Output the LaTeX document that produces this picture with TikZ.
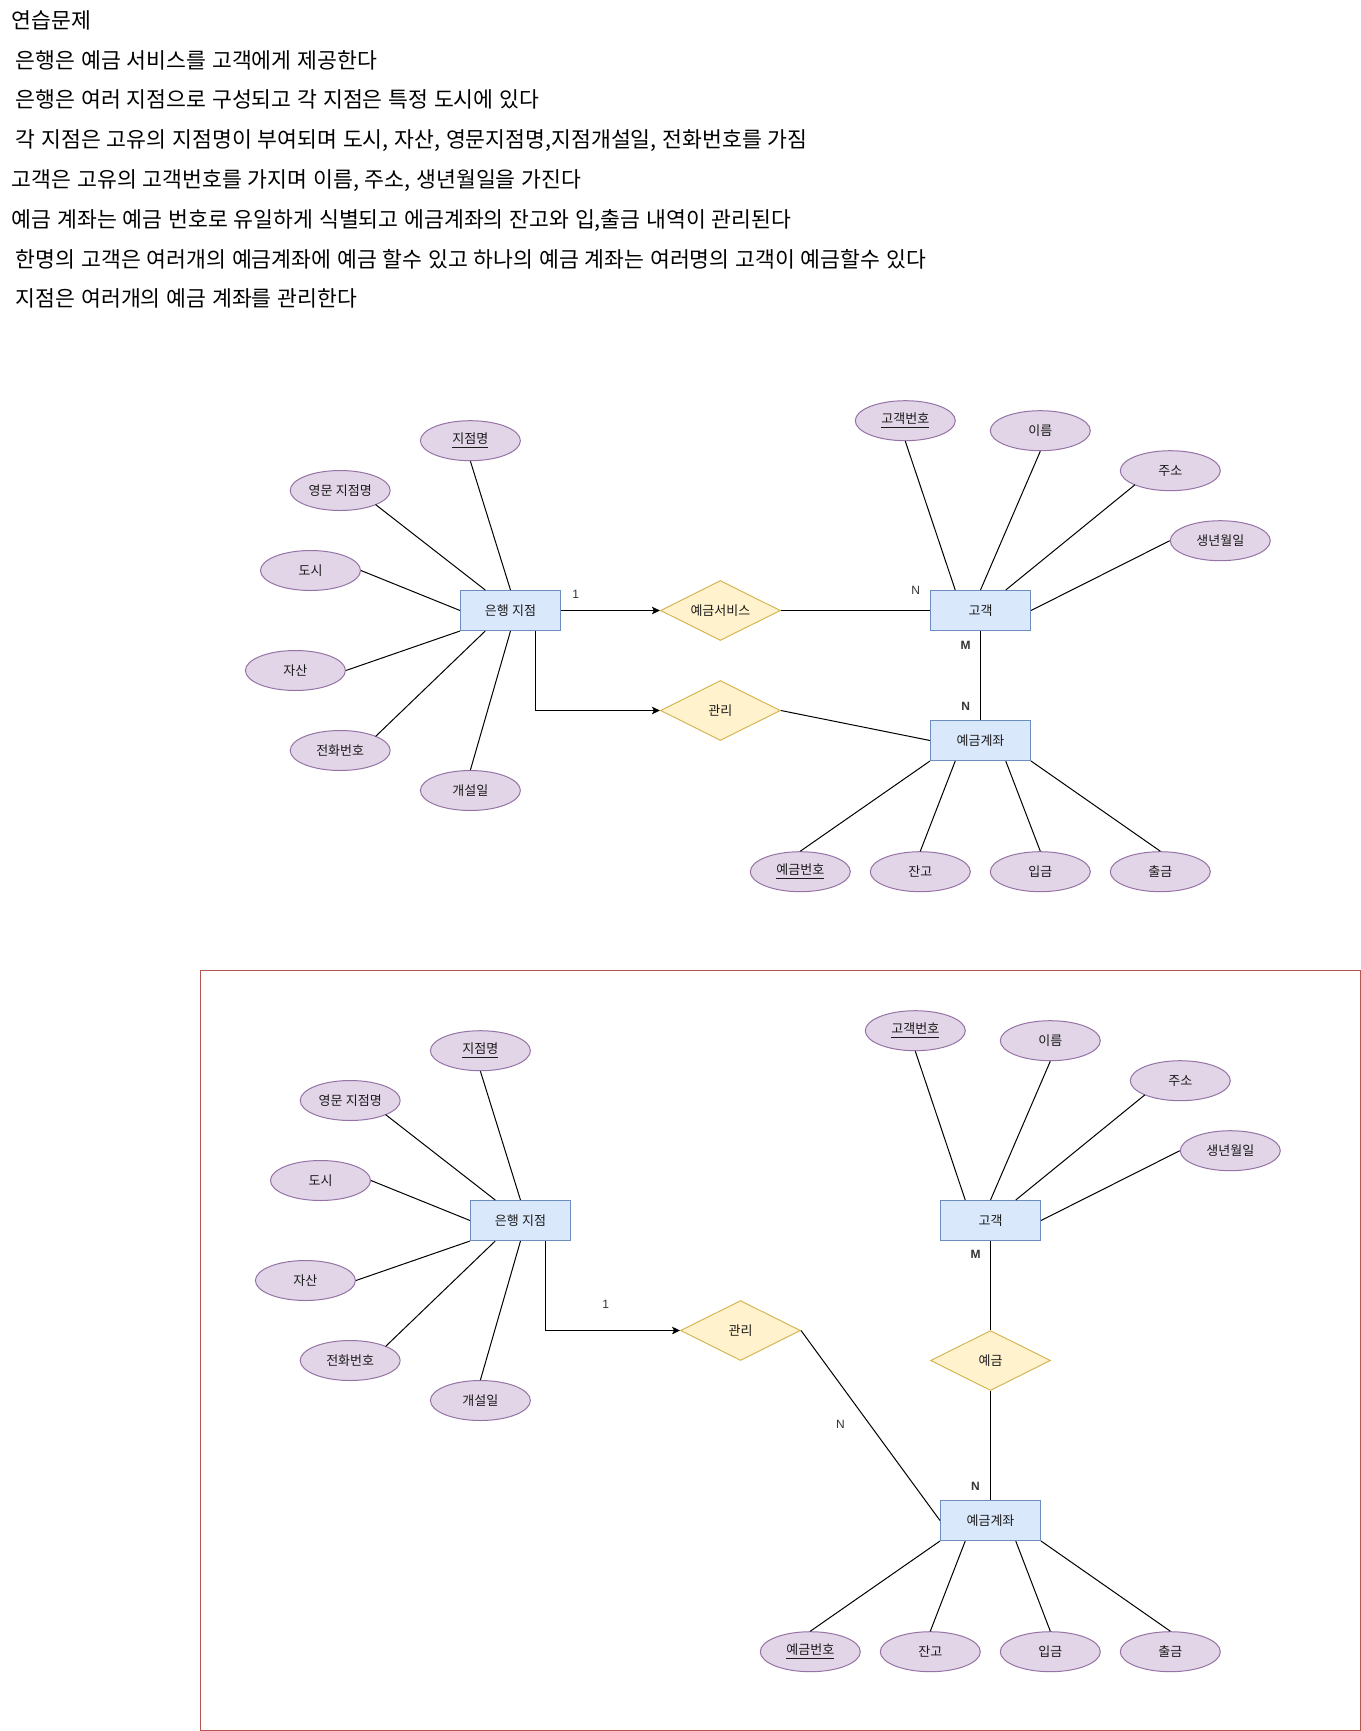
\documentclass[tikz,border=0pt]{standalone}
\usepackage{fontspec}
\setmainfont{Noto Sans CJK KR}[WordSpace=1.2]
\newfontfamily\latf{Liberation Sans}
\usetikzlibrary{shapes.geometric,arrows.meta,calc}
\definecolor{attrfill}{HTML}{E1D5E7}
\definecolor{attrline}{HTML}{9673A6}
\definecolor{entfill}{HTML}{DAE8FC}
\definecolor{entline}{HTML}{6C8EBF}
\definecolor{relfill}{HTML}{FFF2CC}
\definecolor{relline}{HTML}{D6B656}
\definecolor{frameline}{HTML}{B85450}
\definecolor{txt}{HTML}{1A1A1A}
\definecolor{labtxt}{HTML}{333333}
\tikzset{
  nodefont/.style={font=\fontsize{6.5}{7.5}\selectfont, text=txt},
  attr/.style={ellipse, draw=attrline, fill=attrfill, line width=0.5pt, minimum width=50pt, minimum height=20pt, inner sep=0pt, nodefont},
  ent/.style={rectangle, draw=entline, fill=entfill, line width=0.5pt, minimum width=50pt, minimum height=20pt, inner sep=0pt, nodefont},
  rel/.style={diamond, shape aspect=2, draw=relline, fill=relfill, line width=0.5pt, minimum width=60pt, minimum height=30pt, inner sep=0pt, nodefont},
  conn/.style={line width=0.5pt, draw=black},
  arr/.style={conn, -{Stealth[length=4pt, width=3.8pt, inset=1pt]}},
  lbl/.style={font=\latf\fontsize{6}{7}\selectfont, text=labtxt, inner sep=0pt},
  blbl/.style={font=\latf\bfseries\fontsize{6}{7}\selectfont, text=labtxt, inner sep=0pt},
  head/.style={anchor=base west, inner sep=0pt, font=\fontsize{10.8}{13}\selectfont, text=black}
}
\begin{document}
\begin{tikzpicture}[x=0.5pt, y=-0.5pt]
\useasboundingbox (0,0) rectangle (1361,1731);

% ---------- header text ----------
\node[head] (t1) at (11.5,28.3) {연습문제};
\node[head] (t2) at (15.5,68.1) {은행은 예금 서비스를 고객에게 제공한다};
\node[head] (t3) at (15.5,107.9) {은행은 여러 지점으로 구성되고 각 지점은 특정 도시에 있다};
\node[head] (t4) at (15.5,147.7) {각 지점은 고유의 지점명이 부여되며 도시, 자산, 영문지점명,지점개설일, 전화번호를 가짐};
\node[head] (t5) at (11.5,187.5) {고객은 고유의 고객번호를 가지며 이름, 주소, 생년월일을 가진다};
\node[head] (t6) at (11.5,227.3) {예금 계좌는 예금 번호로 유일하게 식별되고 에금계좌의 잔고와 입,출금 내역이 관리된다};
\node[head] (t7) at (15.5,267.1) {한명의 고객은 여러개의 예금계좌에 예금 할수 있고 하나의 예금 계좌는 여러명의 고객이 예금할수 있다};
\node[head] (t8) at (15.5,306.9) {지점은 여러개의 예금 계좌를 관리한다};

% ---------- diagram 1 ----------
\node[ent] (bank) at (510.5,610.5) {은행 지점};
\node[attr] (jm) at (470.4,440.7) {\underline{지점명}};
\node[attr] (eng) at (340.2,490.5) {영문 지점명};
\node[attr] (city) at (310.5,570.5) {도시};
\node[attr] (asset) at (295.4,670.5) {자산};
\node[attr] (tel) at (340.2,750.5) {전화번호};
\node[attr] (open) at (470.4,790.5) {개설일};
\node[rel] (svc) at (720.4,610.5) {예금서비스};
\node[rel] (mgmt) at (720.4,710.5) {관리};
\node[ent] (cust) at (980.5,610.5) {고객};
\node[ent] (acct) at (980.5,740.5) {예금계좌};
\node[attr] (cno) at (905.3,420.7) {\underline{고객번호}};
\node[attr] (name) at (1040.3,430.7) {이름};
\node[attr] (addr) at (1170.3,470.7) {주소};
\node[attr] (birth) at (1220.3,540.7) {생년월일};
\node[attr] (ano) at (800.3,871.7) {\underline{예금번호}};
\node[attr] (bal) at (920.3,871.7) {잔고};
\node[attr] (dep) at (1040.3,871.7) {입금};
\node[attr] (wd) at (1160.3,871.7) {출금};

\draw[conn] (jm.south) -- (bank.north);
\draw[conn] ($(eng.center)+(35.4,14.1)$) -- ($(bank.north west)!0.25!(bank.north east)$);
\draw[conn] (city.east) -- (bank.west);
\draw[conn] (asset.east) -- (bank.south west);
\draw[conn] ($(tel.center)+(35.4,-14.1)$) -- ($(bank.south west)!0.25!(bank.south east)$);
\draw[conn] (open.north) -- (bank.south);
\draw[arr] (bank.east) -- (svc.west);
\draw[arr] ($(bank.south west)!0.75!(bank.south east)$) |- (mgmt.west);
\draw[conn] (svc.east) -- (cust.west);
\draw[conn] (mgmt.east) -- (acct.west);
\draw[conn] (cust.south) -- (acct.north);
\draw[conn] (cno.south) -- ($(cust.north west)!0.25!(cust.north east)$);
\draw[conn] (name.south) -- (cust.north);
\draw[conn] ($(addr.center)+(-35.4,14.1)$) -- ($(cust.north west)!0.75!(cust.north east)$);
\draw[conn] (birth.west) -- (cust.east);
\draw[conn] (ano.north) -- (acct.south west);
\draw[conn] (bal.north) -- ($(acct.south west)!0.25!(acct.south east)$);
\draw[conn] (dep.north) -- ($(acct.south west)!0.75!(acct.south east)$);
\draw[conn] (wd.north) -- (acct.south east);

\node[lbl] (l1a) at (575.7,594.3) {1};
\node[lbl] (l1b) at (915.7,590) {N};
\node[blbl] (l1c) at (965.7,645) {M};
\node[blbl] (l1d) at (965.7,706.7) {N};

% ---------- diagram 2 ----------
\draw[draw=frameline, line width=0.5pt] (200.3,970.3) rectangle (1360.5,1730.5);

\node[ent] (bankB) at (520.5,1220.5) {은행 지점};
\node[attr] (jmB) at (480.4,1050.7) {\underline{지점명}};
\node[attr] (engB) at (350.2,1100.5) {영문 지점명};
\node[attr] (cityB) at (320.5,1180.5) {도시};
\node[attr] (assetB) at (305.4,1280.5) {자산};
\node[attr] (telB) at (350.2,1360.5) {전화번호};
\node[attr] (openB) at (480.4,1400.5) {개설일};
\node[rel] (mgmtB) at (740.5,1330.5) {관리};
\node[ent] (custB) at (990.5,1220.5) {고객};
\node[rel] (depo) at (990.5,1360.5) {예금};
\node[ent] (acctB) at (990.5,1520.5) {예금계좌};
\node[attr] (cnoB) at (915.3,1030.7) {\underline{고객번호}};
\node[attr] (nameB) at (1050.3,1040.7) {이름};
\node[attr] (addrB) at (1180.3,1080.7) {주소};
\node[attr] (birthB) at (1230.3,1150.7) {생년월일};
\node[attr] (anoB) at (810.3,1651.7) {\underline{예금번호}};
\node[attr] (balB) at (930.3,1651.7) {잔고};
\node[attr] (depB) at (1050.3,1651.7) {입금};
\node[attr] (wdB) at (1170.3,1651.7) {출금};

\draw[conn] (jmB.south) -- (bankB.north);
\draw[conn] ($(engB.center)+(35.4,14.1)$) -- ($(bankB.north west)!0.25!(bankB.north east)$);
\draw[conn] (cityB.east) -- (bankB.west);
\draw[conn] (assetB.east) -- (bankB.south west);
\draw[conn] ($(telB.center)+(35.4,-14.1)$) -- ($(bankB.south west)!0.25!(bankB.south east)$);
\draw[conn] (openB.north) -- (bankB.south);
\draw[arr] ($(bankB.south west)!0.75!(bankB.south east)$) |- (mgmtB.west);
\draw[conn] (mgmtB.east) -- (acctB.west);
\draw[conn] (custB.south) -- (depo.north);
\draw[conn] (depo.south) -- (acctB.north);
\draw[conn] (cnoB.south) -- ($(custB.north west)!0.25!(custB.north east)$);
\draw[conn] (nameB.south) -- (custB.north);
\draw[conn] ($(addrB.center)+(-35.4,14.1)$) -- ($(custB.north west)!0.75!(custB.north east)$);
\draw[conn] (birthB.west) -- (custB.east);
\draw[conn] (anoB.north) -- (acctB.south west);
\draw[conn] (balB.north) -- ($(acctB.south west)!0.25!(acctB.south east)$);
\draw[conn] (depB.north) -- ($(acctB.south west)!0.75!(acctB.south east)$);
\draw[conn] (wdB.north) -- (acctB.south east);

\node[lbl] (l2a) at (605.6,1304.3) {1};
\node[blbl] (l2b) at (975.5,1254.8) {M};
\node[blbl] (l2c) at (975.5,1486.7) {N};
\node[lbl] (l2d) at (840.4,1424.6) {N};
\end{tikzpicture}
\end{document}
